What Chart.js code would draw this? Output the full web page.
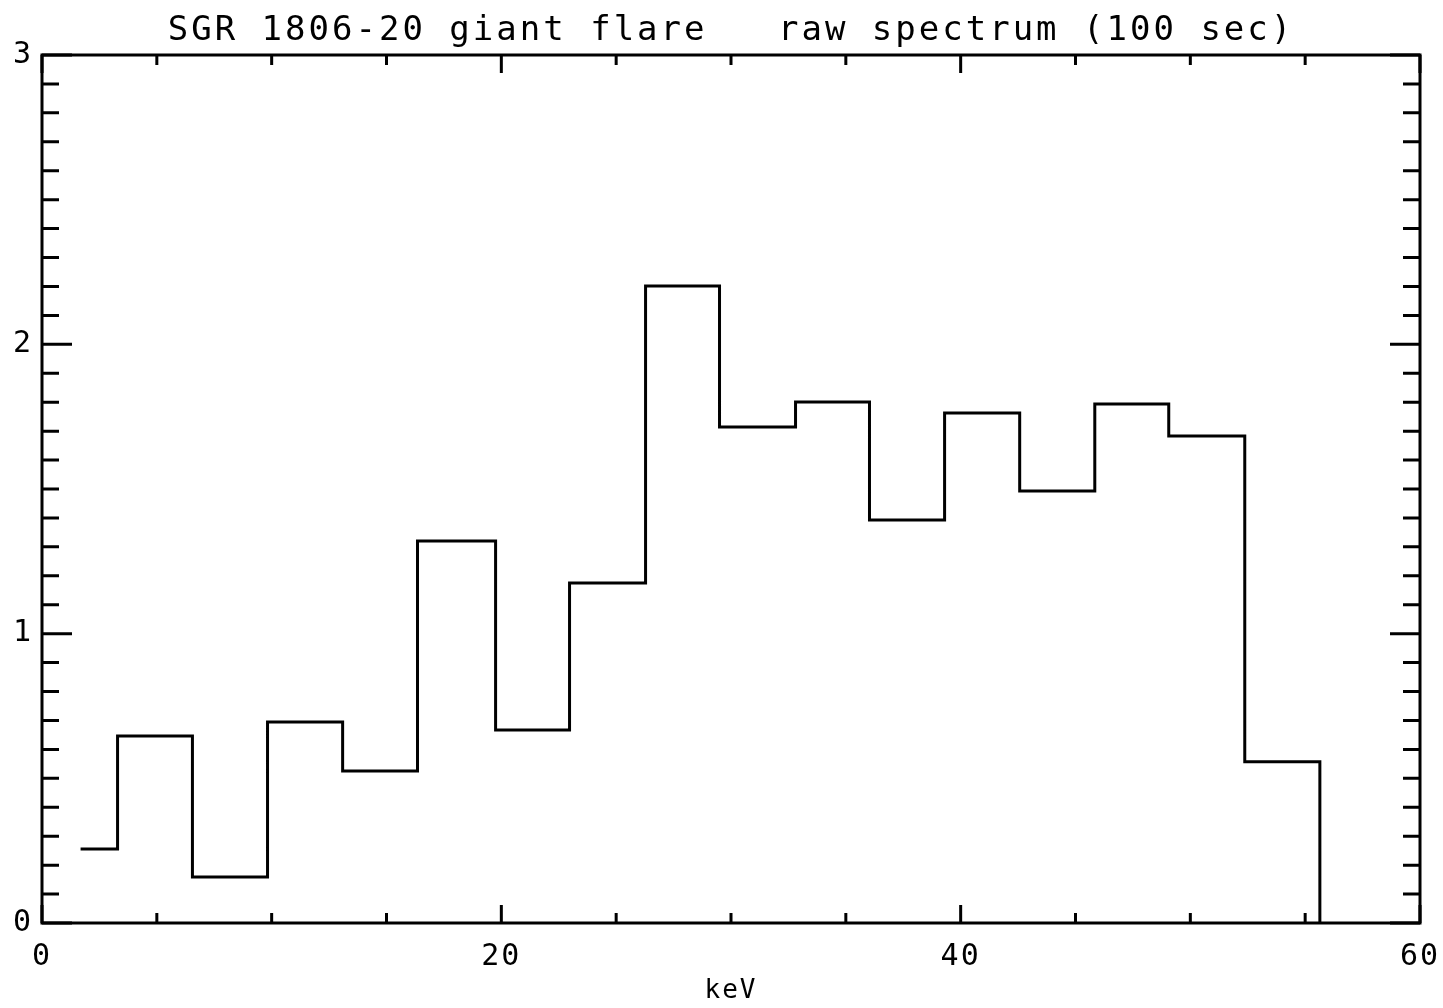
<!DOCTYPE html>
<html>
<head>
<meta charset="utf-8">
<title>SGR 1806-20 giant flare raw spectrum</title>
<script src="https://cdn.jsdelivr.net/npm/chart.js@4.4.1/dist/chart.umd.min.js"></script>
<style>
  html, body { margin: 0; padding: 0; background: #fff; }
  canvas { display: block; }
</style>
</head>
<body>
<canvas id="espectro" width="1443" height="1008"></canvas>
<script>
// bordes de los canales (keV) y cuentas de cada canal
const binEdges = [1.68, 3.29, 6.55, 9.82, 13.09, 16.35, 19.75, 22.97, 26.28, 29.50, 32.81, 36.03, 39.30, 42.57, 45.84, 49.06, 52.37, 55.64];
const counts = [0.256, 0.646, 0.159, 0.695, 0.525, 1.320, 0.667, 1.175, 2.202, 1.714, 1.801, 1.393, 1.763, 1.493, 1.794, 1.683, 0.557];
const xTickLabels = [0, 20, 40, 60];
const yTickLabels = [0, 1, 2, 3];
const titleText = 'SGR 1806-20 giant flare   raw spectrum (100 sec)';
const xLabel = 'keV';

const fuente = '"DejaVu Sans Mono", monospace';

// puntos del histograma: cada canal empieza en su borde, el ultimo cae a cero
const puntos = counts.map((c, i) => ({ x: binEdges[i], y: c }));
puntos.push({ x: binEdges[binEdges.length - 1], y: 0 });

// marco y marcas estilo IDL (hacia dentro, en los cuatro lados) + titulo
const marcoIDL = {
    id: 'marcoIDL',
    beforeDraw(chart) {
        chart.ctx.letterSpacing = '2px';
    },
    afterDatasetsDraw(chart) {
        const { ctx, chartArea: a, scales: { x, y } } = chart;
        ctx.save();
        ctx.strokeStyle = '#000';
        ctx.lineWidth = 3;
        ctx.strokeRect(a.left, a.top, a.right - a.left, a.bottom - a.top);

        ctx.beginPath();
        for (let v = x.min; v <= x.max; v += 5) {
            const px = x.getPixelForValue(v);
            const len = xTickLabels.includes(v) ? 18 : 10;
            ctx.moveTo(px, a.bottom); ctx.lineTo(px, a.bottom - len);
            ctx.moveTo(px, a.top); ctx.lineTo(px, a.top + len);
        }
        for (let i = 0; i <= 30; i++) {
            const py = y.getPixelForValue(i / 10);
            const len = i % 10 === 0 ? 30 : 17;
            ctx.moveTo(a.left, py); ctx.lineTo(a.left + len, py);
            ctx.moveTo(a.right, py); ctx.lineTo(a.right - len, py);
        }
        ctx.stroke();

        ctx.font = '34px ' + fuente;
        ctx.letterSpacing = '3px';
        ctx.fillStyle = '#000';
        ctx.textAlign = 'center';
        ctx.textBaseline = 'alphabetic';
        ctx.fillText(titleText, (a.left + a.right) / 2, 40);
        ctx.restore();
    }
};

const ctx = document.getElementById('espectro').getContext('2d');

new Chart(ctx, {
    type: 'line',
    data: {
        datasets: [{
            label: 'raw spectrum',
            data: puntos,
            stepped: 'before',
            borderColor: '#000',
            borderWidth: 3,
            pointRadius: 0,
            fill: false
        }]
    },
    options: {
        responsive: false,
        animation: false,
        devicePixelRatio: 1,
        layout: { padding: { top: 55, right: 23, left: 0, bottom: 0 } },
        scales: {
            x: {
                type: 'linear',
                min: 0,
                max: 60,
                grid: { display: false, drawTicks: false },
                border: { display: false },
                afterBuildTicks: s => { s.ticks = xTickLabels.map(v => ({ value: v })); },
                afterFit: s => {
                    s.height = 85;
                    s.paddingLeft = 0;
                    s.paddingRight = 0;
                },
                ticks: {
                    color: '#000',
                    font: { family: fuente, size: 30 },
                    padding: 16,
                    maxRotation: 0,
                    autoSkip: false
                },
                title: {
                    display: true,
                    text: xLabel,
                    color: '#000',
                    font: { family: fuente, size: 26 },
                    padding: { top: 0, bottom: 1 }
                }
            },
            y: {
                type: 'linear',
                min: 0,
                max: 3,
                grid: { display: false, drawTicks: false },
                border: { display: false },
                afterBuildTicks: s => { s.ticks = yTickLabels.map(v => ({ value: v })); },
                afterFit: s => { s.width = 42; },
                ticks: {
                    color: '#000',
                    font: { family: fuente, size: 30 },
                    padding: 9
                }
            }
        },
        plugins: {
            legend: { display: false },
            tooltip: { enabled: false },
            title: { display: false }
        }
    },
    plugins: [marcoIDL]
});
</script>
</body>
</html>
